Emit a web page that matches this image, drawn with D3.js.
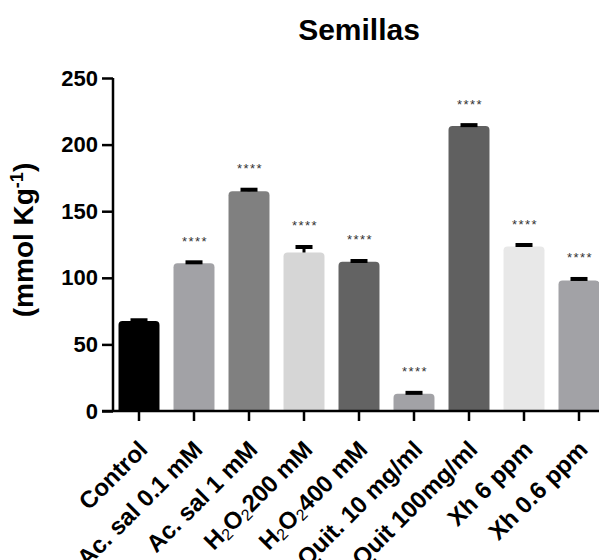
<!DOCTYPE html>
<meta charset="utf-8">
<style>
  body { margin: 0; background: #fff; }
  text { font-family: "Liberation Sans", Arial, sans-serif; fill: #000; }
</style>
<svg id="chart" width="599" height="560"></svg>
<script src="https://d3js.org/d3.v7.min.js"></script>
<script>

// values
var groups = ["Control", "Ac. sal 0.1 mM", "Ac. sal 1 mM", "H2O2 200 mM", "H2O2 400 mM",
              "Quit. 10 mg/ml", "Quit 100mg/ml", "Xh 6 ppm", "Xh 0.6 ppm"]
var means  = [67.5, 111, 165, 119, 112, 13, 214, 123.5, 98]
var errors = [1, 1, 1.5, 4.5, 1, 1, 1, 1.5, 1.5]
var signif = ["", "****", "****", "****", "****", "****", "****", "****", "****"]
var barColors = ["#000000", "#a2a2a6", "#808080", "#d6d6d6", "#636363",
                 "#a2a2a6", "#606060", "#e8e8e8", "#a2a2a6"]
var yTicks = [0, 50, 100, 150, 200, 250]

var svg = d3.select("#chart"),
    margin = {top: 78, left: 113},
    baseY = 411

var y = d3.scaleLinear()
    .domain([0, 250])
    .range([baseY, margin.top])

var x = d3.scaleBand()
    .domain(groups)
    .range([111.5, 111.5 + 55 * groups.length])
    .paddingInner(0.255)
    .paddingOuter(0.1275)

// title
svg.append("text")
    .attr("x", 359)
    .attr("y", 40)
    .attr("text-anchor", "middle")
    .style("font-size", "30px")
    .style("font-weight", "bold")
    .text("Semillas")

// bars, rounded on top
function barPath(d, i) {
  var x0 = x(groups[i]), w = x.bandwidth(), top = y(d), r = 4
  return "M" + x0 + "," + baseY +
    "V" + (top + r) + "Q" + x0 + "," + top + " " + (x0 + r) + "," + top +
    "H" + (x0 + w - r) + "Q" + (x0 + w) + "," + top + " " + (x0 + w) + "," + (top + r) +
    "V" + baseY + "Z"
}

svg.append("g").selectAll("path")
    .data(means)
    .enter().append("path")
    .attr("d", barPath)
    .attr("fill", (d, i) => barColors[i])

// error bars (upper only)
var err = svg.append("g")
err.selectAll("line.stem")
    .data(means)
    .enter().append("line")
    .attr("class", "stem")
    .attr("x1", (d, i) => x(groups[i]) + x.bandwidth() / 2)
    .attr("x2", (d, i) => x(groups[i]) + x.bandwidth() / 2)
    .attr("y1", d => y(d))
    .attr("y2", (d, i) => y(d + errors[i]))
    .attr("stroke", "#000")
    .attr("stroke-width", 3)

err.selectAll("line.cap")
    .data(means)
    .enter().append("line")
    .attr("class", "cap")
    .attr("x1", (d, i) => x(groups[i]) + x.bandwidth() / 2 - 8.5)
    .attr("x2", (d, i) => x(groups[i]) + x.bandwidth() / 2 + 8.5)
    .attr("y1", (d, i) => y(d + errors[i]) + 0.5)
    .attr("y2", (d, i) => y(d + errors[i]) + 0.5)
    .attr("stroke", "#000")
    .attr("stroke-width", 4)

// significance stars
svg.append("g").selectAll("text")
    .data(means)
    .enter().append("text")
    .attr("x", (d, i) => x(groups[i]) + x.bandwidth() / 2 + 1)
    .attr("y", (d, i) => y(d + errors[i]) - 24 + 8)
    .attr("text-anchor", "middle")
    .style("font-size", "13px")
    .style("letter-spacing", "1.5px")
    .style("fill", "#333")
    .text((d, i) => signif[i])

// y axis
var yAxis = svg.append("g")
    .attr("transform", "translate(" + margin.left + ",0)")
    .call(d3.axisLeft(y).tickValues(yTicks).tickSize(11).tickPadding(4))
yAxis.select(".domain").attr("stroke-width", 2.5).attr("d", "M0," + y(250) + "V" + baseY)
yAxis.selectAll(".tick line").attr("stroke-width", 2.5)
yAxis.selectAll(".tick text")
    .style("font-size", "22px")
    .style("font-weight", "bold")
    .style("font-family", "'Liberation Sans', Arial, sans-serif")

// x axis
var xAxis = svg.append("g")
    .attr("transform", "translate(0," + baseY + ")")
    .call(d3.axisBottom(x).tickSize(10).tickFormat(""))
xAxis.select(".domain").attr("stroke-width", 2.5).attr("d", "M" + (margin.left - 11) + ",0H605")
xAxis.selectAll(".tick line").attr("stroke-width", 2.5)

// rotated group labels (with subscripts for H2O2)
var labels = svg.append("g").selectAll("text")
    .data(groups)
    .enter().append("text")
    .attr("transform", d => "translate(" + (x(d) + x.bandwidth() / 2 + 10) + "," + (baseY + 40) + ") rotate(-45)")
    .attr("text-anchor", "end")
    .style("font-size", "24px")
    .style("font-weight", "bold")

labels.each(function(d) {
  var t = d3.select(this)
  if (d.indexOf("H2O2") === 0) {
    t.append("tspan").text("H")
    t.append("tspan").attr("dy", 3).style("font-size", "16px").style("font-weight", "normal").text("2")
    t.append("tspan").attr("dy", -3).text("O")
    t.append("tspan").attr("dy", 3).style("font-size", "16px").style("font-weight", "normal").text("2")
    t.append("tspan").attr("dy", -3).text(d.slice(5))
  } else {
    t.text(d)
  }
})

// y axis title
var yTitle = svg.append("text")
    .attr("transform", "translate(33,240) rotate(-90)")
    .attr("text-anchor", "middle")
    .style("font-size", "28px")
    .style("font-weight", "bold")
yTitle.append("tspan").text("(mmol Kg")
yTitle.append("tspan").attr("dy", -10).style("font-size", "18px").text("-1")
yTitle.append("tspan").attr("dy", 10).text(")")

</script>
